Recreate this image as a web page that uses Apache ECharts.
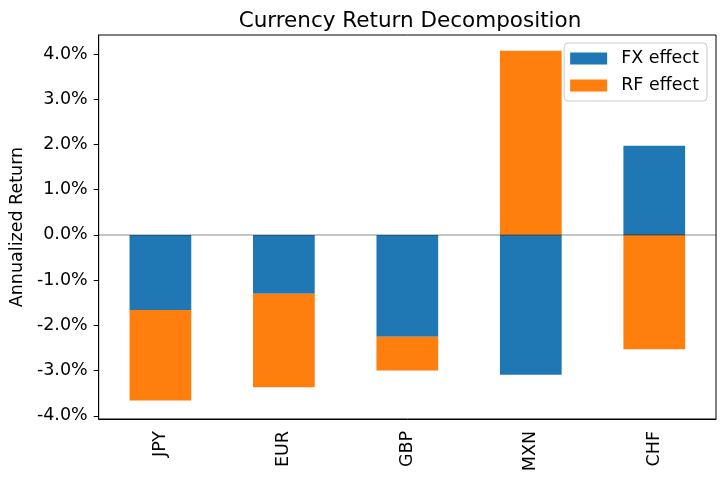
<!DOCTYPE html>
<html><head><meta charset="utf-8">
<script src="https://cdn.jsdelivr.net/npm/echarts@6/dist/echarts.min.js"></script>
<style>html,body{margin:0;padding:0;background:#fff}#c{width:725px;height:480px}</style>
</head><body><div id="c"></div>
<script>
const categories = ['JPY','EUR','GBP','MXN','CHF'];
const fxEffect = [-1.66, -1.30, -2.25, -3.09, 1.97];
const rfEffect = [-2.00, -2.07, -0.75, 4.07, -2.53];
const yTicks = [-4, -3, -2, -1, 0, 1, 2, 3, 4];

const F = 'DejaVu Sans';
const chart = echarts.init(document.getElementById('c'));
chart.setOption({
  animation: false,
  title: {text: 'Currency Return Decomposition', left: 405, top: 5, textAlign: 'center',
    textStyle: {fontFamily: F, fontSize: 21.5, fontWeight: 'normal', color: '#000'}},
  grid: {left: 96, right: 9, top: 35, bottom: 61, show: true, borderColor: '#000', borderWidth: 1, backgroundColor: 'transparent'},
  legend: {orient: 'vertical', right: 18, top: 43, itemWidth: 37, itemHeight: 12, itemGap: 8,
    padding: [6, 8, 6, 6], borderColor: '#ccc', borderWidth: 1, borderRadius: 4, backgroundColor: '#fff',
    textStyle: {fontFamily: F, fontSize: 17.5, lineHeight: 19, color: '#000', padding: [0, 0, 0, 9]},
    data: [{name: 'FX effect', icon: 'rect'}, {name: 'RF effect', icon: 'rect'}]},
  xAxis: {type: 'category', data: categories,
    axisLine: {onZero: false, lineStyle: {color: '#000', width: 1}},
    axisTick: {alignWithLabel: true, length: 5, lineStyle: {color: '#000'}},
    axisLabel: {rotate: 90, fontFamily: F, fontSize: 17.5, color: '#000', margin: 12}},
  yAxis: {type: 'value', min: -4.07, max: 4.42,
    name: 'Annualized Return', nameLocation: 'middle', nameGap: 70, nameRotate: 90,
    nameTextStyle: {fontFamily: F, fontSize: 17.5, color: '#000'},
    axisLine: {show: true, lineStyle: {color: '#000'}},
    axisTick: {show: true, length: 5, lineStyle: {color: '#000'}, customValues: yTicks},
    splitLine: {show: false},
    axisLabel: {customValues: yTicks, fontFamily: F, fontSize: 17.5, color: '#000', margin: 11,
      formatter: v => v.toFixed(1) + '%'}},
  series: [
    {name: 'FX effect', type: 'bar', stack: 'a', data: fxEffect, barWidth: '50%',
      itemStyle: {color: '#1f77b4'}},
    {name: 'RF effect', type: 'bar', stack: 'a', data: rfEffect, barWidth: '50%',
      itemStyle: {color: '#ff7f0e'},
      markLine: {silent: true, symbol: 'none', label: {show: false}, z: 10,
        lineStyle: {color: 'rgba(0,0,0,0.3)', width: 1.5, type: 'solid'}, data: [{yAxis: 0}]}}
  ]
});
</script></body></html>
